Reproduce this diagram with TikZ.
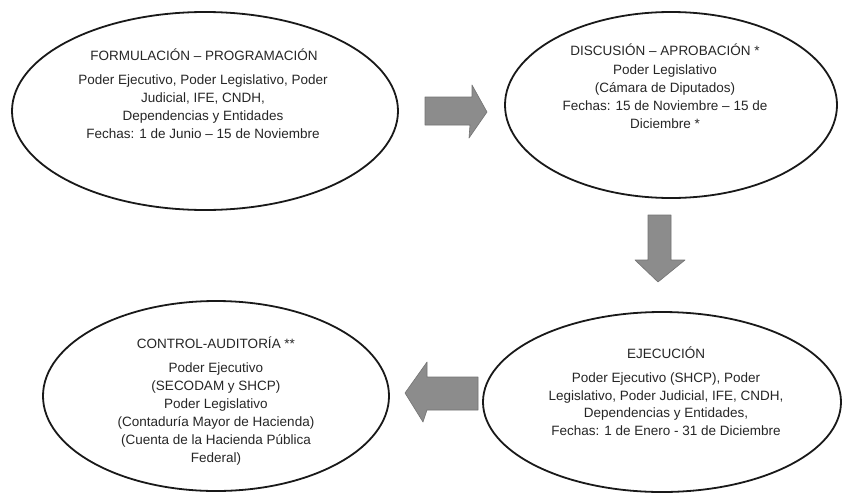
\documentclass[tikz,border=0pt]{standalone}
\usepackage{fontspec}
\setmainfont{Liberation Sans}
\usetikzlibrary{shapes.geometric}
\begin{document}
\begin{tikzpicture}[x=1pt,y=-1pt,
  stage/.style={draw=black!90, line width=1.8pt, ellipse, inner sep=0pt, outer sep=0pt},
  ttl/.style={anchor=base, inner sep=0pt, font=\fontsize{13.5}{18}\selectfont, text=black!85},
  bdy/.style={anchor=north, inner sep=0pt, align=center, font=\fontsize{13.5}{18}\selectfont, text=black!85},
  blockarrow/.style={fill=black!45, draw=black!55, line width=0.6pt, line join=round}]
\useasboundingbox (0,0) rectangle (843,493);
\fill[white] (0,0) rectangle (843,493);

% stages
\node[stage, minimum width=386pt, minimum height=198pt] (e1) at (205,111) {};
\node[stage, minimum width=332pt, minimum height=186pt] (e2) at (671,105) {};
\node[stage, minimum width=346pt, minimum height=190pt] (e3) at (216,396) {};
\node[stage, minimum width=358pt, minimum height=180pt] (e4) at (662,402) {};

% texts
\node[ttl] (t1) at (204,60) {FORMULACIÓN – PROGRAMACIÓN};
\node[bdy] (b1) at (203,75) {Poder Ejecutivo, Poder Legislativo, Poder\\Judicial, IFE, CNDH,\\Dependencias y Entidades\\Fechas: 1 de Junio – 15 de Noviembre};

\node[ttl] (t2) at (665,55) {DISCUSIÓN – APROBACIÓN *};
\node[bdy] (b2) at (665,65) {Poder Legislativo\\(Cámara de Diputados)\\Fechas: 15 de Noviembre – 15 de\\Diciembre *};

\node[ttl] (t3) at (216,348) {CONTROL-AUDITORÍA **};
\node[bdy] (b3) at (216,363) {Poder Ejecutivo\\(SECODAM y SHCP)\\Poder Legislativo\\(Contaduría Mayor de Hacienda)\\(Cuenta de la Hacienda Pública\\Federal)};

\node[ttl] (t4) at (666,358) {EJECUCIÓN};
\node[bdy, font=\fontsize{13.5}{17.5}\selectfont] (b4) at (666,373) {Poder Ejecutivo (SHCP), Poder\\Legislativo, Poder Judicial, IFE, CNDH,\\Dependencias y Entidades,\\Fechas: 1 de Enero - 31 de Diciembre};

% block arrows
\draw[blockarrow] (425,97) -- (472,97) -- (472,85) -- (487,112) -- (469,138) -- (470,125) -- (425,125) -- cycle;
\draw[blockarrow] (648,215) -- (671,215) -- (671,260) -- (685,260) -- (658,282) -- (635,260) -- (648,260) -- cycle;
\draw[blockarrow] (478,377) -- (427,377) -- (427,362) -- (405,393) -- (423,422) -- (427,410) -- (478,410) -- cycle;
\end{tikzpicture}
\end{document}
